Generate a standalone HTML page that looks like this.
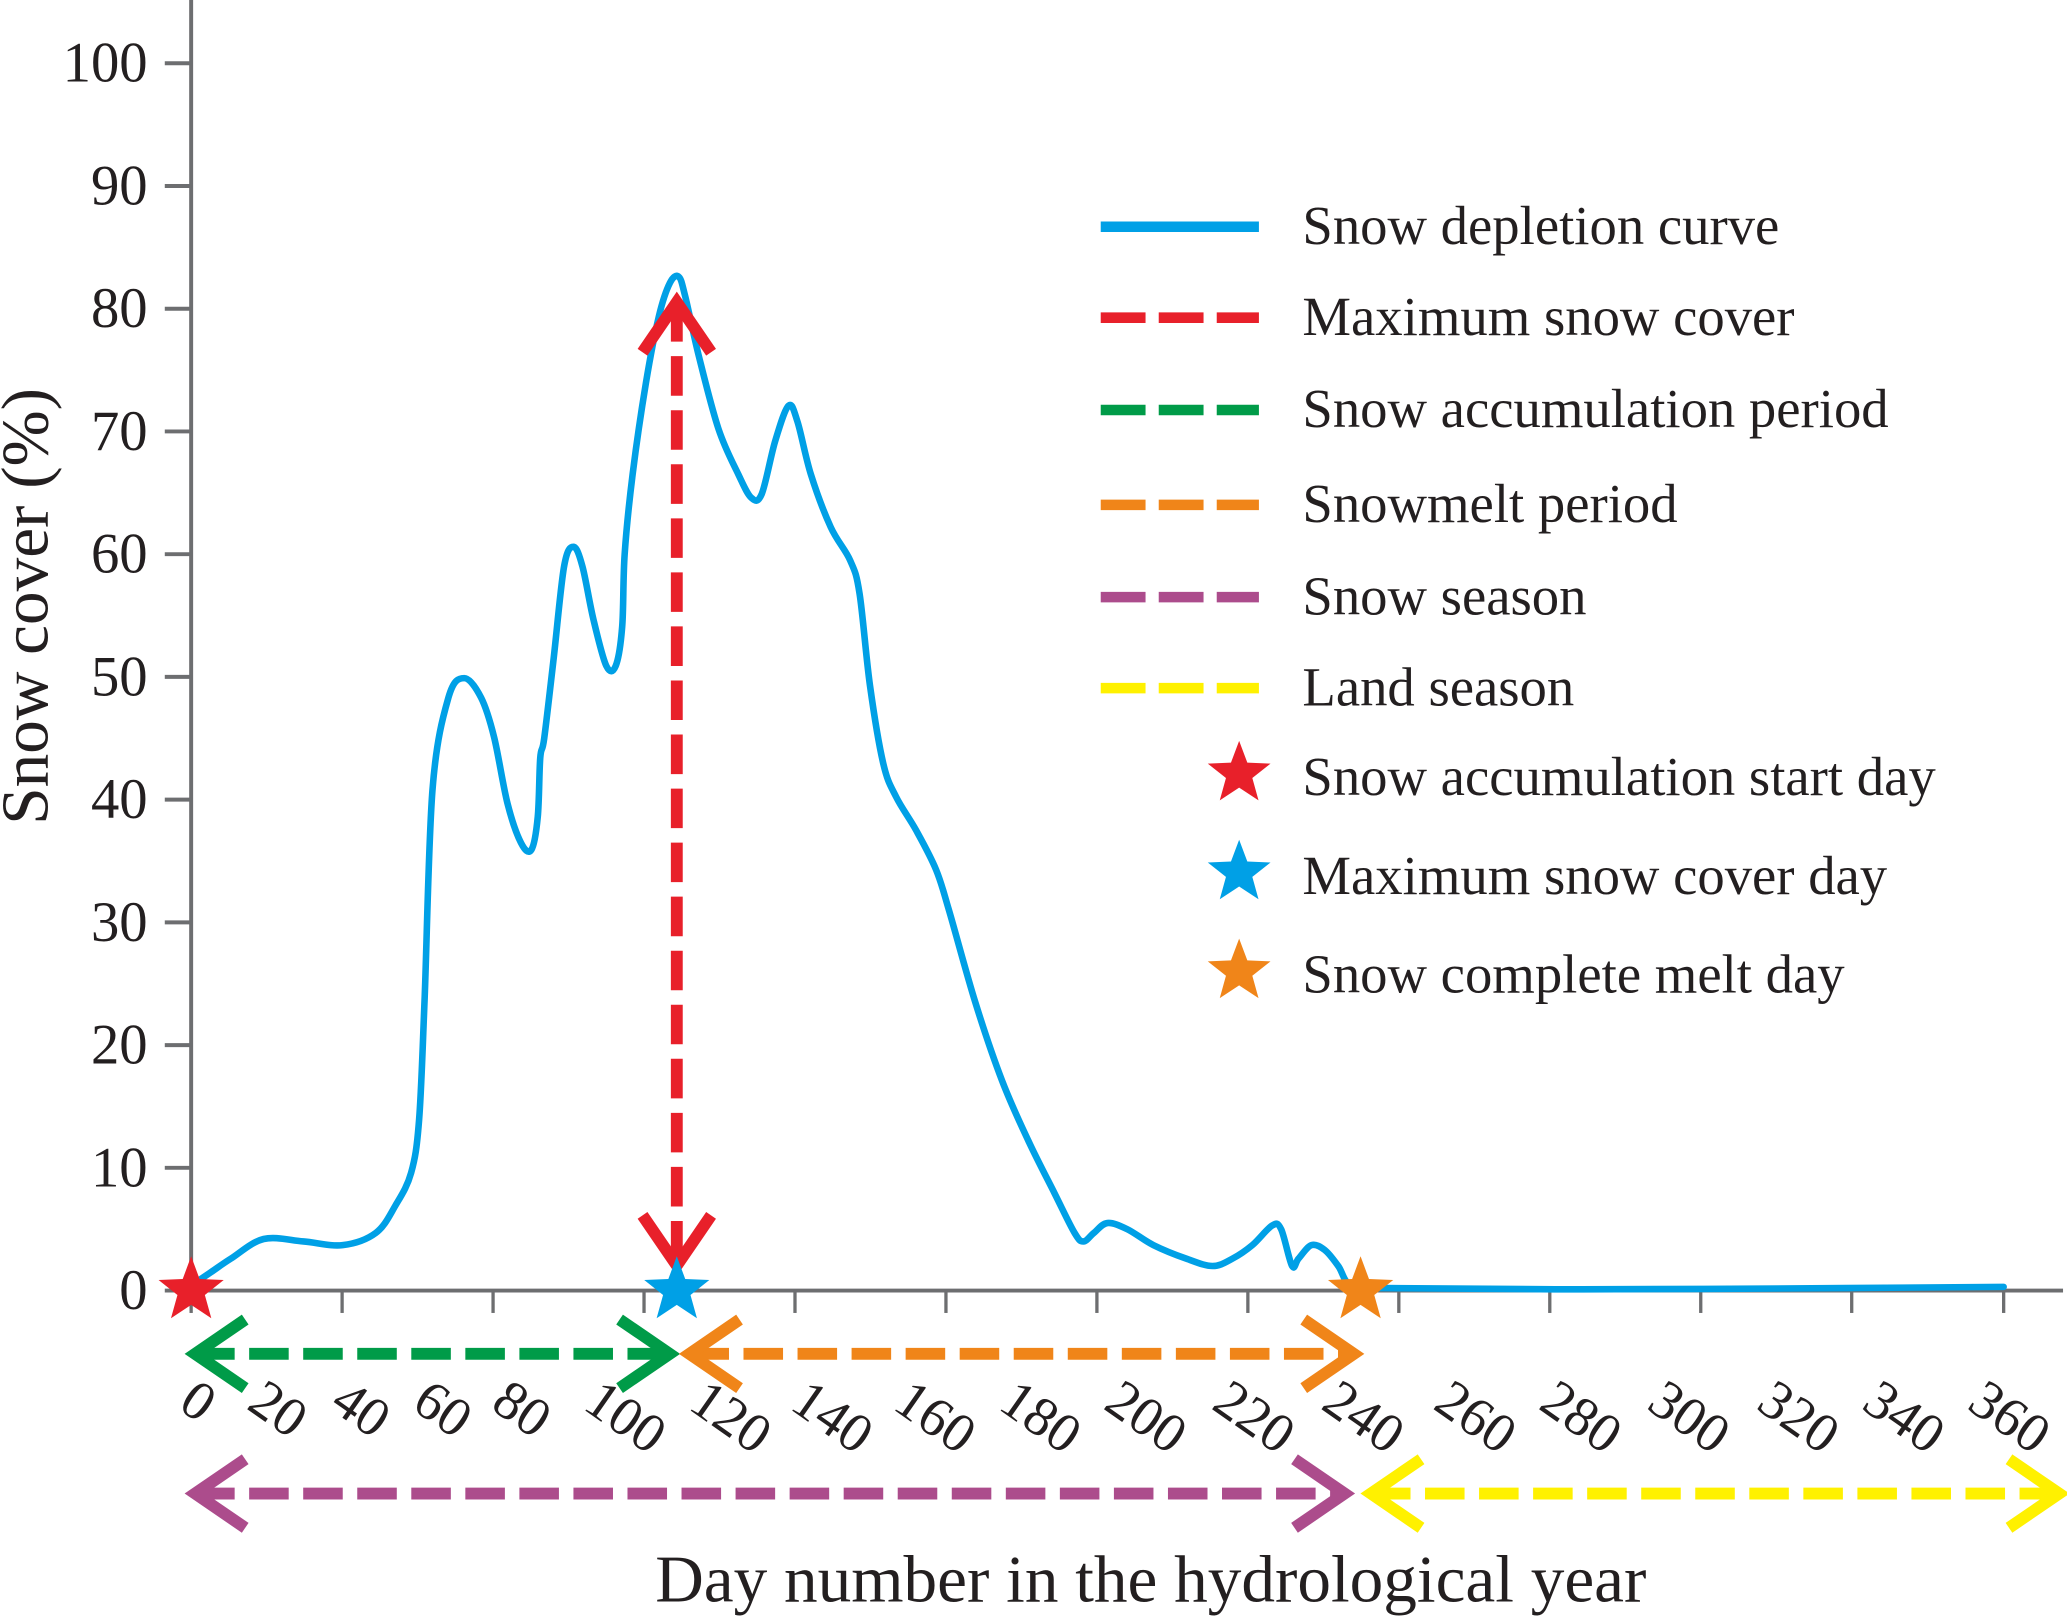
<!DOCTYPE html>
<html><head><meta charset="utf-8"><style>
html,body{margin:0;padding:0;background:#fff;}
svg{display:block;font-family:"Liberation Serif",serif;}
</style></head><body>
<svg id="chart" width="2067" height="1618" viewBox="0 0 1568 1227.4" xmlns="http://www.w3.org/2000/svg">
<g id="axes"></g>
<g id="marks"></g>
<g id="legend"></g>
<text transform="translate(36,460) rotate(-90)" text-anchor="middle" font-size="51" fill="#231f20">Snow cover (%)</text>
<text x="873" y="1215" text-anchor="middle" font-size="51" fill="#231f20">Day number in the hydrological year</text>
</svg>
<script>
const days=[0,4,8,14.6,22.6,30.5,37.2,41.1,44.3,45.9,47,48.6,51.8,55,58.4,61,63.7,66.4,68.5,69.8,70.3,71.1,73,75.1,77,78.8,81,83.6,85.5,86.8,87.3,88.9,91.6,94.2,96.4,98.2,99.5,102.2,106.2,110.2,112.8,114.9,117.6,120.3,122.1,124.8,128.8,132.7,134.6,136.7,139.4,142,146,150,152.6,157.9,163.3,168.6,173.9,177.9,179.7,181.8,184.5,188.5,193.8,200.4,205.7,209.7,213.7,217.7,219.5,221.7,223,225.6,228.3,231,233.6,240.2,280,333,365];
const snow=[0.4,1.5,2.6,4.2,4,3.7,4.7,6.9,9.6,13.9,23.6,40.8,48.3,49.9,48.3,45.1,39.7,36.5,35.9,38.6,43.4,45,51.5,59,60.6,59,54.7,50.9,50.9,54.1,60,66.5,74,79.4,82.1,82.6,81,76.2,70.2,66.5,64.6,64.9,69.2,72.1,70.8,66.5,62.2,59.5,56.8,49.3,42.9,40.2,37.5,34.3,31,23.5,17.1,12.2,7.9,4.7,4,4.7,5.5,5,3.7,2.6,2,2.6,3.7,5.3,5,2,2.6,3.7,3.3,2,0.4,0.2,0.1,0.2,0.3];
const yTicks=[0,10,20,30,40,50,60,70,80,90,100];
const xTickDays=[0,30.4,60.8,91.2,121.6,152,182.4,212.8,243.2,273.6,304,334.4,365];
const xLabels=["0","20","40","60","80","100","120","140","160","180","200","220","240","260","280","300","320","340","360"];
const xLabelPos=[148,200,263,325,385,455,535,612,690,770,850,932,1015,1100,1180,1262,1345,1425,1505];
const accStartDay=0, maxDay=97.8, meltDay=235.5, maxValue=80;
const NS="http://www.w3.org/2000/svg";
const X=d=>145+d*3.767;
const Y=v=>979-v*9.31;
function mk(tag,attrs,parent){const e=document.createElementNS(NS,tag);for(const k in attrs)e.setAttribute(k,attrs[k]);parent.appendChild(e);return e;}
const axes=document.getElementById('axes'),marks=document.getElementById('marks'),legend=document.getElementById('legend');
const ax="#6d6e70";
let l=mk('line',{x1:145,y1:0,x2:145,y2:981,stroke:ax,'stroke-width':3},axes);


l=mk('line',{x1:143,y1:979,x2:1565,y2:979,stroke:ax,'stroke-width':3},axes);


yTicks.forEach(v=>{
 const t=mk('line',{x1:125,y1:Y(v),x2:145,y2:Y(v),stroke:ax,'stroke-width':3},axes);
 
 
 const tx=mk('text',{x:112,y:Y(v)+14,'text-anchor':'end','font-size':43,fill:'#231f20'},axes);
 tx.textContent=v;
 
 
});
xTickDays.forEach(d=>{
 const t=mk('line',{x1:X(d),y1:979,x2:X(d),y2:996,stroke:ax,'stroke-width':2.5},axes);
 
 
});
xLabels.forEach((s,i)=>{
 const tx=mk('text',{transform:`translate(${xLabelPos[i]-14},1068) rotate(35)`,'font-size':42,fill:'#231f20'},axes);
 tx.textContent=s;
 
 
});
// smooth curve (Catmull-Rom)
const P=days.map((d,i)=>[X(d),Y(snow[i])]);
let dstr='M'+P[0][0]+','+P[0][1];
for(let i=0;i<P.length-1;i++){
 const p0=P[Math.max(0,i-1)],p1=P[i],p2=P[i+1],p3=P[Math.min(P.length-1,i+2)];
 const t=0.5/3;
 dstr+=` C${p1[0]+(p2[0]-p0[0])*t},${p1[1]+(p2[1]-p0[1])*t} ${p2[0]-(p3[0]-p1[0])*t},${p2[1]-(p3[1]-p1[1])*t} ${p2[0]},${p2[1]}`;
}
const p=mk('path',{d:dstr,fill:'none',stroke:'#00a0e6','stroke-width':5,'stroke-linejoin':'round','stroke-linecap':'round'},marks);


function dashArrow(x1,y1,x2,y2,color,name){
 const g=mk('g',{},marks);
 
 
 mk('line',{x1,y1,x2,y2,stroke:color,'stroke-width':9,'stroke-dasharray':'30 11'},g);
 const dx=x2-x1,dy=y2-y1,L=Math.hypot(dx,dy),ux=dx/L,uy=dy/L;
 [[x1,y1,1],[x2,y2,-1]].forEach(([x,y,s])=>{
  const bx=x+ux*s*38,by=y+uy*s*38;
  mk('polyline',{points:`${bx-uy*26},${by+ux*26} ${x},${y} ${bx+uy*26},${by-ux*26}`,fill:'none',stroke:color,'stroke-width':9},g);
 });
}
dashArrow(X(maxDay),Y(maxValue)-5,X(maxDay),960,'#e8202a','maximum-snow-cover-arrow');
dashArrow(148,1027,508,1027,'#009b48','snow-accumulation-period-arrow');
dashArrow(523,1027,1027,1027,'#f08519','snowmelt-period-arrow');
dashArrow(148,1133,1020,1133,'#ac4c8c','snow-season-arrow');
dashArrow(1040,1133,1562,1133,'#fff100','land-season-arrow');
function star(cx,cy,r,color,parent,name){
 let pts=[];for(let i=0;i<10;i++){const a=-Math.PI/2+i*Math.PI/5,rr=i%2?r*0.42:r;pts.push((cx+rr*Math.cos(a)).toFixed(1)+','+(cy+rr*Math.sin(a)).toFixed(1));}
 const s=mk('polygon',{points:pts.join(' '),fill:color},parent);
 
 
}
star(X(accStartDay),979,26,'#e8202a',marks,'accumulation-start-star');
star(X(maxDay),979,26,'#00a0e6',marks,'max-cover-star');
star(X(meltDay),979,26,'#f08519',marks,'complete-melt-star');
const lg=[['Snow depletion curve','#00a0e6',172,'solid'],['Maximum snow cover','#e8202a',241,'dash'],['Snow accumulation period','#009b48',311,'dash'],['Snowmelt period','#f08519',383,'dash'],['Snow season','#ac4c8c',453,'dash'],['Land season','#fff100',522,'dash']];
lg.forEach(([t,c,y,st])=>{
 const ln=mk('line',{x1:835,y1:y,x2:955,y2:y,stroke:c,'stroke-width':8},legend);
 if(st==='dash')ln.setAttribute('stroke-dasharray','34 10');
 
 
 const tx=mk('text',{x:988,y:y+13,'font-size':41.5,fill:'#231f20'},legend);
 tx.textContent=t;
 
 
});
[['Snow accumulation start day','#e8202a',590],['Maximum snow cover day','#00a0e6',665],['Snow complete melt day','#f08519',740]].forEach(([t,c,y])=>{
 star(940,y-3,25,c,legend,'legend-star');
 const tx=mk('text',{x:988,y:y+13,'font-size':41.5,fill:'#231f20'},legend);
 tx.textContent=t;
 
 
});
</script>
</body></html>
